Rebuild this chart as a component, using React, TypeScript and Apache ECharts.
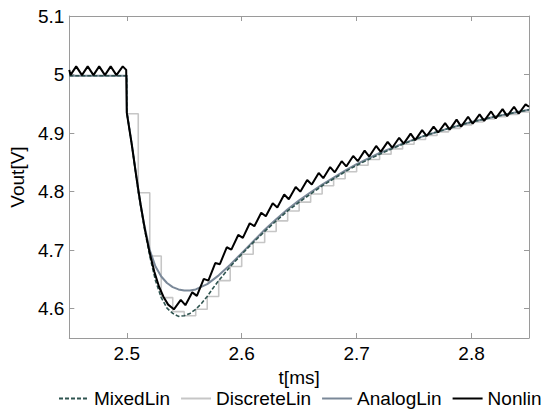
import React, { useEffect, useRef } from "react";
import * as echarts from "echarts";

const seriesNames = ["MixedLin", "DiscreteLin", "AnalogLin", "Nonlin"];
const xLabel = "t[ms]";
const yLabel = "Vout[V]";

const mixedLin: [number, number][] = [
  [2.45, 4.998], [2.5, 4.998], [2.5001, 4.935], [2.505, 4.872], [2.51, 4.8], [2.515, 4.741],
  [2.52, 4.69], [2.525, 4.648], [2.53, 4.619], [2.535, 4.601], [2.54, 4.592], [2.545, 4.587],
  [2.55, 4.588], [2.555, 4.592], [2.56, 4.599], [2.565, 4.609], [2.57, 4.621], [2.575, 4.635],
  [2.58, 4.648], [2.59, 4.672], [2.6, 4.693], [2.61, 4.713], [2.62, 4.732], [2.63, 4.75],
  [2.64, 4.767], [2.65, 4.782], [2.66, 4.796], [2.67, 4.81], [2.68, 4.822], [2.69, 4.834],
  [2.7, 4.845], [2.72, 4.864], [2.74, 4.881], [2.76, 4.896], [2.78, 4.908], [2.8, 4.919],
  [2.82, 4.928], [2.84, 4.936], [2.85, 4.94],
];

const discreteLin: [number, number][] = [
  [2.45, 4.998], [2.5, 4.933], [2.51, 4.798], [2.52, 4.69], [2.53, 4.619], [2.54, 4.595],
  [2.55, 4.588], [2.56, 4.599], [2.57, 4.621], [2.58, 4.648], [2.59, 4.672], [2.6, 4.693],
  [2.61, 4.713], [2.62, 4.732], [2.63, 4.75], [2.64, 4.767], [2.65, 4.782], [2.66, 4.796],
  [2.67, 4.81], [2.68, 4.822], [2.69, 4.834], [2.7, 4.845], [2.71, 4.855], [2.72, 4.864],
  [2.73, 4.873], [2.74, 4.881], [2.75, 4.889], [2.76, 4.896], [2.77, 4.902], [2.78, 4.908],
  [2.79, 4.914], [2.8, 4.919], [2.81, 4.924], [2.82, 4.928], [2.83, 4.932], [2.84, 4.936],
  [2.85, 4.94],
];

const analogLin: [number, number][] = [
  [2.45, 4.998], [2.5, 4.998], [2.5001, 4.935], [2.505, 4.873], [2.51, 4.802], [2.515, 4.745],
  [2.52, 4.7], [2.525, 4.672], [2.53, 4.655], [2.535, 4.644], [2.54, 4.637], [2.545, 4.633],
  [2.55, 4.631], [2.555, 4.631], [2.56, 4.633], [2.57, 4.642], [2.58, 4.657], [2.59, 4.675],
  [2.6, 4.695], [2.61, 4.715], [2.62, 4.735], [2.63, 4.753], [2.64, 4.77], [2.65, 4.785],
  [2.66, 4.799], [2.67, 4.812], [2.68, 4.824], [2.69, 4.836], [2.7, 4.847], [2.72, 4.866],
  [2.74, 4.882], [2.76, 4.896], [2.78, 4.908], [2.8, 4.919], [2.82, 4.928], [2.84, 4.936],
  [2.85, 4.94],
];

const nonlin: [number, number][] = [
  [2.45, 5.008], [2.451, 4.999], [2.456, 5.014], [2.461, 4.999], [2.466, 5.014], [2.471, 4.999],
  [2.476, 5.014], [2.481, 4.999], [2.486, 5.014], [2.491, 4.999], [2.4965, 5.014], [2.4995, 5.008],
  [2.5, 4.935], [2.504, 4.885], [2.508, 4.83], [2.512, 4.778], [2.516, 4.733], [2.52, 4.695],
  [2.524, 4.663], [2.528, 4.638], [2.532, 4.62], [2.536, 4.607], [2.541, 4.599], [2.547, 4.615],
  [2.551, 4.606], [2.557, 4.628], [2.561, 4.622], [2.567, 4.651], [2.571, 4.648], [2.577, 4.678],
  [2.581, 4.676], [2.587, 4.705], [2.591, 4.701], [2.597, 4.726], [2.601, 4.721], [2.607, 4.746],
  [2.611, 4.741], [2.617, 4.764], [2.621, 4.758], [2.627, 4.78], [2.631, 4.773], [2.637, 4.795],
  [2.641, 4.787], [2.647, 4.808], [2.651, 4.8], [2.657, 4.82], [2.661, 4.812], [2.667, 4.832],
  [2.671, 4.823], [2.677, 4.842], [2.681, 4.833], [2.687, 4.852], [2.691, 4.843], [2.697, 4.861],
  [2.701, 4.852], [2.707, 4.87], [2.711, 4.86], [2.717, 4.878], [2.721, 4.868], [2.727, 4.885],
  [2.731, 4.875], [2.737, 4.892], [2.741, 4.882], [2.747, 4.899], [2.751, 4.888], [2.757, 4.905],
  [2.761, 4.895], [2.767, 4.911], [2.771, 4.901], [2.777, 4.917], [2.781, 4.906], [2.787, 4.923],
  [2.791, 4.911], [2.797, 4.928], [2.801, 4.916], [2.807, 4.932], [2.811, 4.921], [2.817, 4.937],
  [2.821, 4.925], [2.827, 4.941], [2.831, 4.929], [2.837, 4.945], [2.841, 4.933], [2.847, 4.949],
  [2.85, 4.945],
];

const xRange = [2.45, 2.85];
const yRange = [4.55, 5.1];

const FONT = "'Liberation Sans', Arial, Helvetica, sans-serif";
const AXIS_GRAY = "#9a9a9a";

function tenthsLabel(v: number): string {
  const t = v * 10;
  if (Math.abs(t - Math.round(t)) > 1e-6) return "";
  return String(Math.round(t) / 10);
}

export default function App() {
  const ref = useRef<HTMLDivElement>(null);
  useEffect(() => {
    if (!ref.current) return;
    const chart = echarts.init(ref.current, undefined, { renderer: "svg" });
    const axisCommon = {
      axisLine: { show: true, lineStyle: { color: AXIS_GRAY, width: 1 } },
      axisTick: { show: true, inside: true, length: 5, lineStyle: { color: AXIS_GRAY } },
      splitLine: { show: false },
    };
    chart.setOption({
      animation: false,
      backgroundColor: "#ffffff",
      textStyle: { fontFamily: FONT },
      grid: { left: 68, right: 14, top: 16, bottom: 72 },
      legend: {
        data: seriesNames,
        left: 58,
        top: 389,
        itemGap: 10,
        itemWidth: 30,
        itemHeight: 14,
        padding: 0,
        itemStyle: { opacity: 0 },
        textStyle: { fontSize: 19, color: "#000", fontFamily: FONT, lineHeight: 19 },
      },
      xAxis: [
        {
          type: "value",
          min: xRange[0],
          max: xRange[1],
          splitNumber: 4,
          position: "bottom",
          name: xLabel,
          nameLocation: "middle",
          nameGap: 28,
          nameTextStyle: { fontSize: 19, color: "#000", fontFamily: FONT, lineHeight: 19 },
          axisLabel: {
            fontSize: 19,
            color: "#000",
            fontFamily: FONT,
            margin: 6,
            formatter: tenthsLabel,
          },
          ...axisCommon,
        },
        {
          type: "value",
          min: xRange[0],
          max: xRange[1],
          splitNumber: 4,
          position: "top",
          axisLabel: { show: false },
          ...axisCommon,
        },
      ],
      yAxis: [
        {
          type: "value",
          min: yRange[0],
          max: yRange[1],
          splitNumber: 5,
          position: "left",
          name: yLabel,
          nameLocation: "middle",
          nameGap: 38,
          nameTextStyle: { fontSize: 19, color: "#000", fontFamily: FONT },
          axisLabel: {
            fontSize: 19,
            color: "#000",
            fontFamily: FONT,
            margin: 5,
            formatter: tenthsLabel,
          },
          ...axisCommon,
        },
        {
          type: "value",
          min: yRange[0],
          max: yRange[1],
          splitNumber: 5,
          position: "right",
          axisLabel: { show: false },
          ...axisCommon,
        },
      ],
      series: [
        {
          name: "DiscreteLin",
          type: "line",
          data: discreteLin,
          step: "end",
          symbol: "none",
          lineStyle: { color: "#c6c6c6", width: 1.6 },
          itemStyle: { color: "#c6c6c6" },
          z: 2,
        },
        {
          name: "AnalogLin",
          type: "line",
          data: analogLin,
          symbol: "none",
          lineStyle: { color: "#7a8898", width: 2 },
          itemStyle: { color: "#7a8898" },
          z: 3,
        },
        {
          name: "MixedLin",
          type: "line",
          data: mixedLin,
          symbol: "none",
          lineStyle: { color: "#2f5450", width: 1.6, type: [4, 2] },
          itemStyle: { color: "#2f5450" },
          z: 4,
        },
        {
          name: "Nonlin",
          type: "line",
          data: nonlin,
          symbol: "none",
          lineStyle: { color: "#000000", width: 2 },
          itemStyle: { color: "#000000" },
          z: 5,
        },
      ],
    });
    return () => chart.dispose();
  }, []);
  return (
    <div
      ref={ref}
      style={{ position: "fixed", left: 0, top: 0, width: 543, height: 410 }}
    />
  );
}
